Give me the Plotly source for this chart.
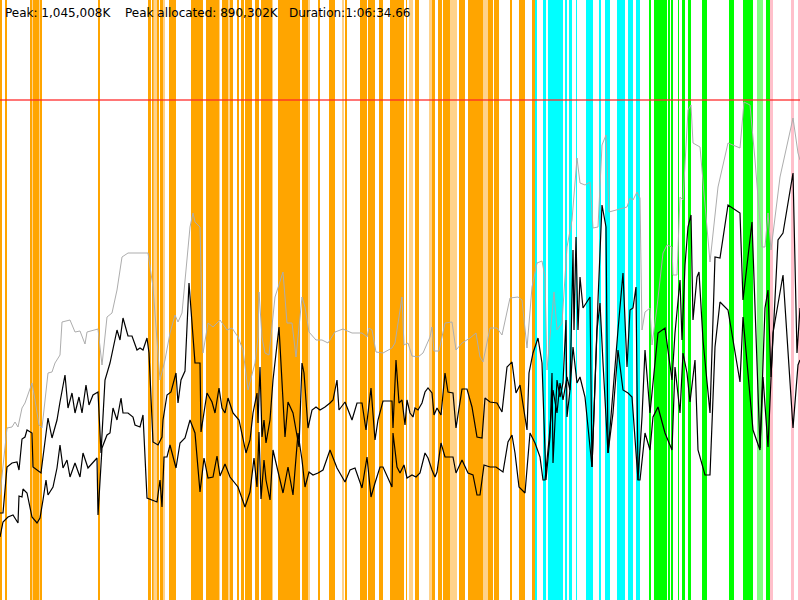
import plotly.graph_objects as go

# ---- data (x: sample position over the run, y: memory level, axis drawn top-down) ----
band_start = [0, 5, 30, 32, 33, 39, 40, 98, 148, 152, 153.5, 157, 160, 163, 169, 191, 206, 219, 222, 228, 230,
              237, 241, 245, 255, 261, 272, 278, 302, 308, 318, 329, 342, 345, 360, 368, 379, 390, 406, 409,
              415, 429, 432, 438, 443, 450, 459, 468, 483, 488, 494, 510, 519, 532,
              535, 543, 548, 565, 569, 576, 586, 599, 605, 617, 628, 636,
              649, 654, 668, 671, 678, 682, 688, 702, 729, 743, 757, 766,
              770, 791, 798]
band_end = [2, 6.7, 32, 33, 39, 40, 42, 99.5, 151, 153.5, 157, 159, 163, 165, 176, 203, 219, 220, 228, 230, 233,
            239, 244, 252, 259, 272, 273, 300, 308, 310, 320, 335, 344, 347, 367, 375, 383, 404, 407, 413,
            419, 432, 435, 442, 450, 457, 465, 483, 488, 493, 499, 512, 525, 535,
            537, 546, 563, 567, 572, 577, 593, 600.5, 610, 625, 633, 640,
            651, 667, 670, 673, 679, 685, 691, 707, 734, 753, 763, 770,
            773, 794, 800]
band_phase = ["o", "o", "o", "ol", "o", "ol", "o", "o", "o", "o", "ol", "o", "o", "ol", "o", "o", "o", "ol", "o", "ol", "o",
              "o", "o", "o", "o", "o", "ol", "o", "o", "ol", "o", "o", "ol", "o", "o", "o", "o", "o", "o", "ol",
              "o", "ol", "o", "o", "o", "ol", "o", "o", "ol", "o", "o", "o", "o", "o",
              "c", "c", "c", "c", "c", "c", "c", "c", "c", "c", "c", "c",
              "g", "g", "g", "g", "g", "g", "g", "g", "g", "g", "gl", "g",
              "p", "p", "p"]

gray_x = [0, 4, 7, 12, 15, 18, 22, 25, 32, 35, 39, 42, 45, 48, 52, 55, 60, 62, 70, 75, 80, 85, 87, 98, 102, 107, 112,
          117, 122, 128, 148, 153, 160, 165, 170, 175, 178, 182, 190, 193, 195, 200, 203, 208, 213, 220, 227, 232,
          238, 243, 248, 255, 258, 259, 262, 265, 269, 275, 283, 287, 292, 296, 302, 305, 309, 316, 322, 328, 335,
          343, 352, 362, 367, 369, 372, 376, 383, 392, 395, 402, 404, 408, 412, 418, 423, 430, 432, 434, 439, 445,
          452, 456, 462, 470, 476, 480, 483, 490, 497, 502, 510, 518, 522, 527, 532, 537, 542, 545, 547, 554, 557,
          562, 567, 572, 577, 580, 585, 590, 593, 598, 602, 606, 609, 627, 630, 633, 637, 640, 642, 645, 650, 652,
          657, 663, 667, 672, 673, 677, 680, 683, 688, 691, 693, 700, 710, 718, 728, 740, 744, 750, 755, 762, 765,
          768, 771, 780, 793, 798, 800]
gray_y = [495, 455, 428, 427, 422, 427, 408, 403, 383, 400, 425, 428, 400, 373, 372, 363, 355, 322, 320, 332, 331, 344,
          332, 329, 365, 317, 313, 290, 257, 253, 253, 287, 380, 360, 333, 315, 322, 313, 227, 213, 222, 227, 353,
          323, 327, 320, 330, 328, 337, 350, 390, 363, 337, 292, 337, 353, 355, 297, 272, 323, 323, 357, 297, 307,
          332, 340, 340, 343, 332, 329, 333, 333, 337, 328, 330, 352, 353, 348, 343, 297, 345, 343, 356, 357, 353,
          337, 327, 351, 351, 323, 322, 350, 343, 338, 333, 357, 362, 328, 328, 335, 298, 297, 300, 348, 287, 263,
          261, 277, 370, 292, 330, 323, 247, 220, 158, 183, 185, 182, 228, 227, 145, 135, 212, 207, 198, 200, 192,
          198, 330, 312, 308, 345, 307, 253, 245, 247, 275, 275, 197, 200, 110, 105, 143, 147, 262, 187, 143, 148,
          102, 105, 160, 247, 247, 213, 250, 177, 118, 153, 160]

upper_x = [0, 3, 7, 12, 17, 19, 22, 25, 27, 32, 33, 41, 43, 48, 52, 57, 60, 65, 68, 72, 75, 79, 82, 86, 89, 93, 98,
           101, 105, 110, 117, 120, 123, 128, 132, 137, 140, 143, 147, 149, 153, 158, 162, 163, 167, 171, 176, 178,
           181, 185, 189, 195, 200, 201, 207, 212, 215, 219, 222, 225, 228, 233, 239, 246, 250, 253, 257, 258, 260,
           262, 264, 266, 270, 273, 279, 285, 288, 293, 299, 302, 304, 308, 312, 316, 320, 325, 330, 333, 337, 339,
           345, 352, 357, 362, 366, 371, 375, 378, 383, 392, 393, 396, 399, 402, 405, 407, 410, 413, 415, 418, 422,
           425, 428, 432, 434, 437, 441, 445, 448, 453, 456, 462, 467, 472, 477, 482, 485, 490, 497, 502, 507, 512,
           516, 520, 527, 529, 533, 538, 542, 546, 550, 552, 553, 557, 560, 563, 566, 567, 570, 572, 573, 574, 576,
           578, 580, 583, 586, 590, 592, 597, 598, 602, 606, 608, 615, 618, 623, 627, 630, 633, 636, 638, 642, 645,
           650, 658, 665, 672, 675, 680, 682, 685, 688, 691, 693, 697, 699, 703, 710, 715, 720, 728, 740, 743, 752,
           760, 765, 768, 771, 778, 783, 793, 797, 800]
upper_y = [513, 513, 467, 463, 462, 470, 439, 437, 430, 433, 467, 473, 457, 418, 438, 420, 402, 375, 408, 393, 413,
           397, 413, 385, 405, 395, 392, 453, 380, 363, 330, 340, 318, 336, 336, 350, 348, 350, 338, 353, 442, 445,
           437, 420, 395, 392, 373, 403, 380, 371, 283, 363, 363, 432, 393, 402, 413, 388, 408, 413, 398, 413, 420,
           453, 440, 413, 393, 423, 367, 437, 420, 443, 420, 380, 327, 437, 402, 413, 447, 363, 373, 428, 410, 407,
           410, 407, 403, 400, 380, 410, 402, 420, 403, 403, 430, 388, 440, 420, 401, 401, 428, 360, 403, 400, 425,
           400, 413, 417, 408, 410, 403, 392, 388, 393, 415, 408, 415, 373, 392, 393, 428, 389, 389, 407, 437, 438,
           398, 402, 403, 412, 367, 362, 393, 385, 430, 373, 353, 338, 363, 480, 437, 373, 463, 380, 397, 383, 320,
           417, 390, 310, 250, 330, 237, 330, 277, 308, 303, 297, 467, 317, 300, 205, 227, 453, 363, 330, 273, 367,
           310, 308, 287, 480, 417, 350, 413, 333, 328, 380, 333, 280, 340, 265, 227, 215, 320, 277, 272, 340, 413,
           257, 258, 205, 213, 300, 222, 448, 308, 290, 377, 240, 233, 173, 353, 308]

lower_x = [0, 3, 8, 13, 18, 19, 22, 23, 27, 28, 32, 37, 40, 43, 46, 48, 53, 57, 60, 63, 67, 70, 75, 80, 83, 88, 93,
           97, 98, 102, 107, 110, 113, 117, 121, 123, 128, 133, 135, 140, 143, 147, 157, 160, 162, 164, 167, 170, 176,
           180, 185, 190, 195, 200, 204, 208, 213, 217, 220, 225, 230, 238, 245, 250, 254, 257, 259, 261, 264, 266,
           270, 273, 283, 288, 293, 298, 302, 305, 309, 313, 318, 323, 330, 337, 345, 350, 355, 362, 367, 371, 375,
           380, 383, 392, 393, 397, 400, 404, 407, 412, 416, 420, 425, 428, 432, 435, 437, 441, 445, 448, 453, 456,
           462, 468, 473, 477, 480, 484, 490, 496, 503, 508, 512, 515, 519, 525, 530, 535, 540, 543, 545, 549, 553,
           557, 560, 563, 567, 570, 573, 577, 580, 585, 592, 597, 600, 603, 608, 613, 618, 623, 628, 632, 638, 640,
           645, 650, 653, 658, 665, 672, 675, 680, 683, 687, 690, 695, 698, 705, 710, 715, 720, 728, 740, 743, 753,
           760, 763, 768, 773, 783, 793, 798, 800]
lower_y = [537, 522, 517, 515, 523, 496, 497, 489, 493, 498, 517, 523, 518, 500, 480, 495, 487, 468, 445, 468, 460,
           477, 463, 477, 453, 468, 462, 458, 515, 448, 435, 433, 408, 420, 398, 413, 413, 417, 425, 427, 415, 498,
           502, 480, 507, 457, 457, 445, 468, 443, 438, 420, 433, 492, 458, 478, 477, 456, 476, 464, 477, 487, 507,
           492, 458, 487, 432, 499, 460, 480, 500, 450, 493, 467, 495, 433, 460, 487, 472, 475, 473, 470, 450, 468,
           482, 470, 468, 488, 457, 497, 483, 467, 467, 487, 433, 467, 473, 465, 478, 475, 477, 473, 453, 458, 470,
           477, 472, 443, 457, 457, 457, 473, 460, 473, 475, 495, 495, 465, 467, 467, 472, 442, 435, 453, 487, 493,
           433, 443, 457, 480, 480, 440, 390, 413, 383, 400, 377, 390, 347, 383, 377, 397, 467, 330, 303, 363, 453,
           413, 350, 390, 393, 397, 480, 480, 433, 450, 417, 407, 433, 450, 367, 413, 353, 373, 402, 360, 450, 475,
           475, 347, 302, 310, 382, 317, 430, 450, 377, 447, 333, 275, 428, 365, 360]

heap_limit = 100
x_extent = [0, 800]
y_extent = [600, 0]

labels = ["Peak: 1,045,008K", "Peak allocated: 890,302K", "Duration:1:06:34.66"]
label_pos = [3, 123, 287]

# ---- styling ----
phase_colors = {"o": "#FFA500", "ol": "#FFD28A", "c": "#00FFFF", "g": "#00FF00", "gl": "#80FF80", "p": "#FFC0CB"}

fig = go.Figure()
fig.add_trace(go.Bar(
    x=[(s + e) / 2 for s, e in zip(band_start, band_end)],
    width=[e - s for s, e in zip(band_start, band_end)],
    y=[y_extent[0]] * len(band_start),
    base=0,
    marker=dict(color=[phase_colors[p] for p in band_phase], line=dict(width=0)),
    hoverinfo="skip",
))
fig.add_trace(go.Scatter(x=gray_x, y=gray_y, mode="lines", line=dict(color="#ADADAD", width=1)))
fig.add_trace(go.Scatter(x=upper_x, y=upper_y, mode="lines", line=dict(color="#000000", width=1.2)))
fig.add_trace(go.Scatter(x=lower_x, y=lower_y, mode="lines", line=dict(color="#000000", width=1.2)))
fig.add_trace(go.Scatter(x=x_extent, y=[heap_limit, heap_limit], mode="lines",
                         line=dict(color="rgba(255,40,40,0.85)", width=1.5)))

for txt, xp in zip(labels, label_pos):
    fig.add_annotation(x=xp, xref="x", xanchor="left", y=1, yref="paper", yanchor="top", yshift=-4,
                       text=txt, showarrow=False, font=dict(family="DejaVu Sans", size=12, color="#000000"))

fig.update_layout(
    width=800, height=600, margin=dict(l=0, r=0, t=0, b=0),
    plot_bgcolor="#FFFFFF", paper_bgcolor="#FFFFFF", showlegend=False, barmode="overlay",
    xaxis=dict(range=x_extent, visible=False, fixedrange=True),
    yaxis=dict(range=y_extent, visible=False, fixedrange=True),
)
fig.write_html(
    "out.html",
    config={"displayModeBar": False},
    post_script="document.documentElement.style.margin='0';document.body.style.margin='0';"
                "document.body.style.padding='0';document.body.style.overflow='hidden';",
)
